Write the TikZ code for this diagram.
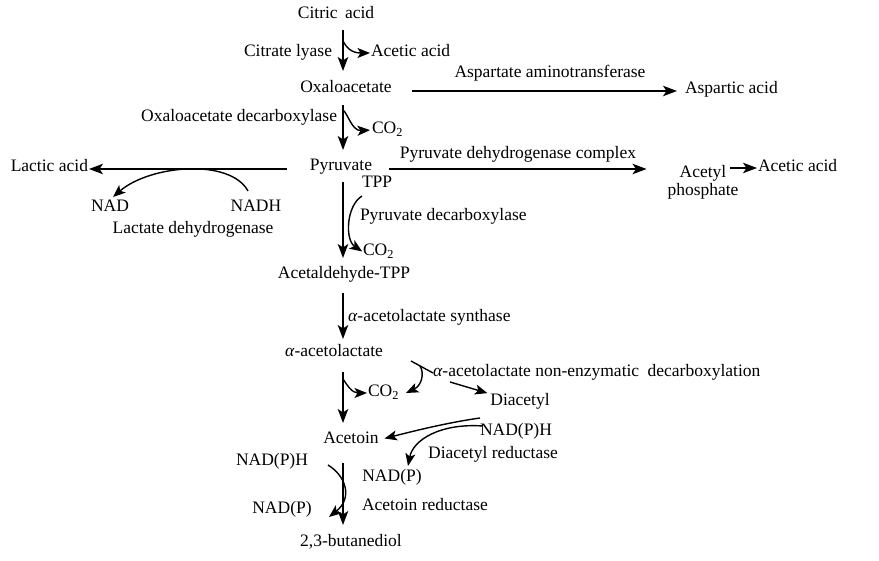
\documentclass[tikz,border=0pt]{standalone}
\usepackage{fontspec}
\setmainfont{Liberation Serif}
\usetikzlibrary{arrows.meta,calc}
\begin{document}
\begin{tikzpicture}[x=1pt,y=-1pt,
  lbl/.style={inner sep=0pt,outer sep=0pt,text height=12pt,text depth=4pt,font=\fontsize{17.5}{18}\selectfont},
  arr/.style={line width=1.5pt,-{Stealth[length=14pt,width=10.5pt,inset=3.5pt]}},
  sarr/.style={line width=1.4pt,-{Stealth[length=12.5pt,width=10pt,inset=3pt]}},
  plain/.style={line width=1.4pt}]
\useasboundingbox (0,0) rectangle (879,561);
% nodes
\node[lbl] (citric) at (336,15) {Citric\, acid};
\node[lbl,anchor=east] (lyase) at (332,53) {Citrate lyase};
\node[lbl,anchor=west] (acetic1) at (371,53) {Acetic acid};
\node[lbl] (oxalo) at (346,89) {Oxaloacetate};
\node[lbl] (aat) at (550,74) {Aspartate aminotransferase};
\node[lbl,anchor=west] (aspartic) at (685,90) {Aspartic acid};
\node[lbl,anchor=east] (oad) at (337,118) {Oxaloacetate decarboxylase};
\node[lbl,anchor=west] (co2a) at (372,130) {CO\textsubscript{2}};
\node[lbl] (pyr) at (341,167) {Pyruvate};
\node[lbl,anchor=east] (lactic) at (88,168) {Lactic acid};
\node[lbl] (nad) at (110,208) {NAD};
\node[lbl] (nadh) at (256,208) {NADH};
\node[lbl] (ldh) at (193,230) {Lactate dehydrogenase};
\node[lbl] (pdh) at (518,155) {Pyruvate dehydrogenase complex};
\node[inner sep=0pt,outer sep=0pt,align=center,font=\fontsize{17.5}{18}\selectfont] (acp) at (703,182) {Acetyl\\phosphate};
\node[lbl,anchor=west] (acetic2) at (758,168) {Acetic acid};
\node[lbl,anchor=west] (tpp) at (362,184) {TPP};
\node[lbl,anchor=west] (pdc) at (360,217) {Pyruvate decarboxylase};
\node[lbl,anchor=west] (co2b) at (363,252) {CO\textsubscript{2}};
\node[lbl] (acetpp) at (344,275) {Acetaldehyde-TPP};
\node[lbl,anchor=west] (als) at (348,318) {\textit{α}-acetolactate synthase};
\node[lbl] (aal) at (334,353) {\textit{α}-acetolactate};
\node[lbl,anchor=west] (co2c) at (368,393) {CO\textsubscript{2}};
\node[lbl,anchor=west] (nonenz) at (433,373) {\textit{α}-acetolactate non-enzymatic\hspace{4pt} decarboxylation};
\node[lbl] (diacetyl) at (520,402) {Diacetyl};
\node[lbl] (acetoin) at (351,440) {Acetoin};
\node[lbl] (nadph1) at (516,432) {NAD(P)H};
\node[lbl] (dar) at (493,455) {Diacetyl reductase};
\node[lbl] (nadp1) at (392,478) {NAD(P)};
\node[lbl] (nadph2) at (272,462) {NAD(P)H};
\node[lbl] (nadp2) at (282,510) {NAD(P)};
\node[lbl,anchor=west] (acr) at (362,507) {Acetoin reductase};
\node[lbl] (bdo) at (351,542) {2,3-butanediol};
% axis and branch points
\coordinate (ax) at (343,0);
\coordinate (b1) at (343,41);
\coordinate (b2) at (343,110);
\coordinate (b3) at (343,379);
\coordinate (l1) at (248,191);
\coordinate (l2) at (113,197);
\coordinate (t1) at (362,196);
\coordinate (n1) at (411,361);
\coordinate (n2) at (420,366);
\coordinate (n3) at (450,382);
\coordinate (d1) at (480,418);
\coordinate (d2) at (483,426);
\coordinate (d3) at (408,466);
\coordinate (r1) at (328,465);
\coordinate (r2) at (329,517);
% main vertical arrows
\draw[arr,shorten <=7pt,shorten >=10pt] (ax |- citric.south) -- (ax |- oxalo.north);
\draw[arr,shorten <=8pt,shorten >=9pt] (ax |- oxalo.south) -- (ax |- pyr.north);
\draw[arr,shorten <=7pt,shorten >=9pt] (ax |- pyr.south) -- (ax |- acetpp.north);
\draw[arr,shorten <=10pt,shorten >=6pt] (ax |- acetpp.south) -- (ax |- aal.north);
\draw[arr,shorten <=11pt,shorten >=9pt] (ax |- aal.south) -- (ax |- acetoin.north);
\draw[arr,shorten <=15pt,shorten >=9pt] (ax |- acetoin.south) -- (ax |- bdo.north);
% horizontal arrows
\draw[arr,shorten <=20pt,shorten >=8pt] (oxalo.east) ++(0,2) -- (aspartic.west |- 0,91);
\draw[arr,shorten <=23pt,shorten >=1pt] (pyr.west) ++(0,2) -- (lactic.east |- 0,169);
\draw[arr,shorten <=17pt,shorten >=21pt] (pyr.east) ++(0,2) -- (acp.west |- 0,169);
\draw[arr,shorten >=1pt] ([xshift=-28pt]acetic2.west) -- (acetic2.west);
% side branches
\draw[sarr,shorten >=1pt] (b1) .. controls (346,47) and (351,53) .. (acetic1.west);
\draw[sarr,shorten >=2pt] (b2) .. controls (348,114) and (352,131) .. (co2a.west);
\draw[sarr] (l1) .. controls (230,158) and (150,165) .. (l2);
\draw[sarr,shorten >=1pt] (t1) .. controls (346,206) and (345,240) .. (co2b.west);
\draw[sarr,shorten >=1pt] (b3) .. controls (347,385) and (352,393) .. (co2c.west);
\draw[plain] (n1) -- (nonenz.west);
\draw[sarr] (n2) .. controls (425,374) and (421,386) .. ($(co2c.east)+(7,0)$);
\draw[sarr,shorten >=3pt] (n3) -- (diacetyl.north west);
\draw[sarr,shorten >=6pt] (d1) .. controls (445,423) and (410,432) .. (acetoin.east);
\draw[sarr] (d2) .. controls (440,423) and (413,440) .. (d3);
\draw[sarr] (r1) .. controls (346,476) and (353,498) .. (r2);
\end{tikzpicture}
\end{document}
